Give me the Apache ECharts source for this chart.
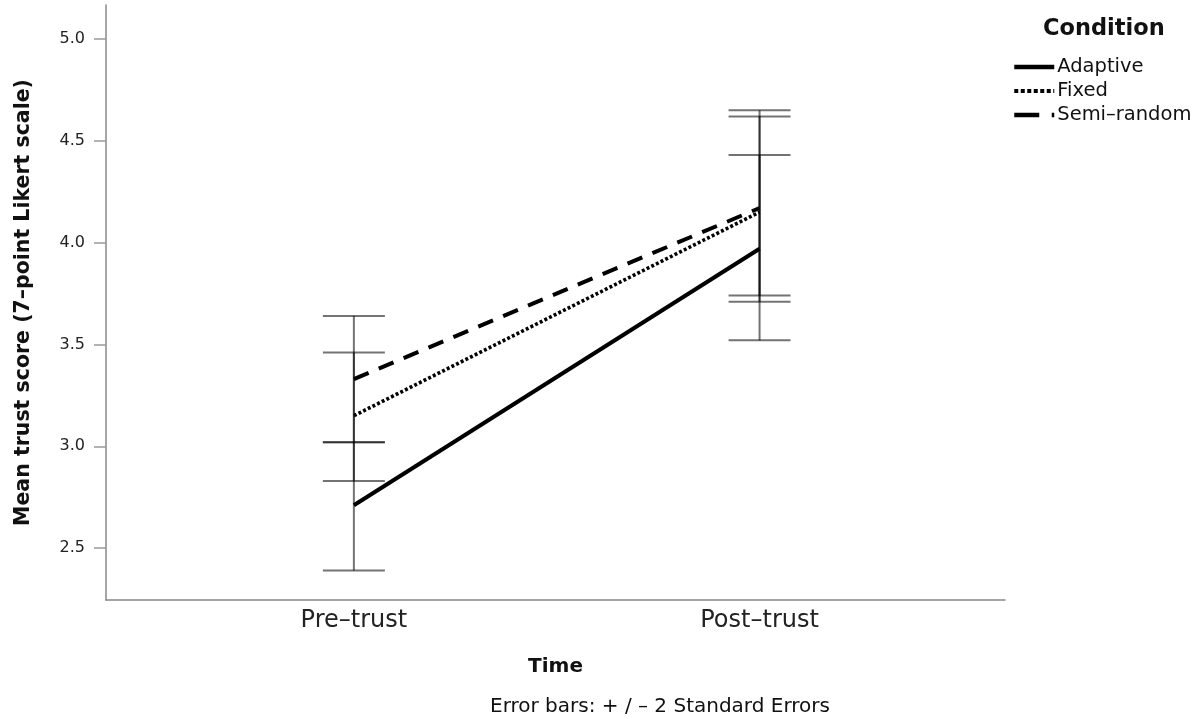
<!DOCTYPE html>
<html>
<head>
<meta charset="utf-8">
<script src="https://cdn.jsdelivr.net/npm/echarts@6/dist/echarts.min.js"></script>
<style>
  html, body { margin: 0; padding: 0; background: #fff; }
  #chart { width: 1200px; height: 719px; }
</style>
</head>
<body>
<div id="chart"></div>
<script>
// Time points (x positions 0 and 1 on the value axis)
const timePoints = ['Pre\u2013trust', 'Post\u2013trust'];
const conditions = ['Adaptive', 'Fixed', 'Semi\u2013random'];

// Mean trust score per condition at each time point
const adaptiveMean = [2.71, 3.97];
const fixedMean = [3.15, 4.15];
const semiRandomMean = [3.33, 4.17];

// Error bar bounds (+/- 2 SE) per condition at each time point
const adaptiveLow = [2.39, 3.52];
const adaptiveHigh = [3.02, 4.43];
const fixedLow = [2.83, 3.74];
const fixedHigh = [3.46, 4.62];
const semiRandomLow = [3.02, 3.71];
const semiRandomHigh = [3.64, 4.65];

const yTicks = [2.5, 3.0, 3.5, 4.0, 4.5, 5.0];

const means = [adaptiveMean, fixedMean, semiRandomMean];
const lows = [adaptiveLow, fixedLow, semiRandomLow];
const highs = [adaptiveHigh, fixedHigh, semiRandomHigh];
const dashes = ['solid', [3, 2.2], [16, 11]];
const widths = [4, 3.6, 4];

const FONT = 'DejaVu Sans';

const lineSeries = conditions.map((name, i) => ({
  name: name,
  type: 'line',
  symbol: 'none',
  z: 3,
  lineStyle: { color: '#000', width: widths[i], type: dashes[i], cap: 'butt' },
  itemStyle: { color: '#000' },
  data: timePoints.map((t, k) => [k, means[i][k]])
}));

const errorData = [];
conditions.forEach((name, i) => {
  timePoints.forEach((t, k) => errorData.push([k, lows[i][k], highs[i][k]]));
});

const errorSeries = {
  name: 'error',
  type: 'custom',
  z: 2,
  silent: true,
  data: errorData,
  renderItem: function (params, api) {
    const x = api.value(0);
    const pLo = api.coord([x, api.value(1)]);
    const pHi = api.coord([x, api.value(2)]);
    const hw = 31;
    const st = { stroke: 'rgba(0,0,0,0.55)', lineWidth: 2 };
    return {
      type: 'group',
      children: [
        { type: 'line', shape: { x1: pLo[0], y1: pLo[1], x2: pHi[0], y2: pHi[1] }, style: st },
        { type: 'line', shape: { x1: pLo[0] - hw, y1: pLo[1], x2: pLo[0] + hw, y2: pLo[1] }, style: st },
        { type: 'line', shape: { x1: pHi[0] - hw, y1: pHi[1], x2: pHi[0] + hw, y2: pHi[1] }, style: st }
      ]
    };
  }
};

const chart = echarts.init(document.getElementById('chart'), null, { renderer: 'canvas' });
chart.setOption({
  animation: false,
  backgroundColor: '#fff',
  textStyle: { fontFamily: FONT },
  grid: { left: 106, right: 195, top: 5, bottom: 119, containLabel: false, outerBoundsMode: 'none' },
  xAxis: {
    type: 'value',
    min: -0.611,
    max: 1.605,
    name: 'Time',
    nameLocation: 'middle',
    nameGap: 57,
    nameTextStyle: { fontFamily: FONT, fontSize: 20, fontWeight: 'bold', color: '#111' },
    axisLine: { show: true, onZero: false, lineStyle: { color: '#888', width: 1.5 } },
    axisTick: { show: false },
    splitLine: { show: false },
    axisLabel: {
      customValues: [0, 1],
      formatter: v => timePoints[Math.round(v)],
      fontFamily: FONT, fontSize: 24, color: '#222', margin: 9
    }
  },
  yAxis: {
    type: 'value',
    min: 2.245,
    max: 5.167,
    name: 'Mean trust score (7\u2013point Likert scale)',
    nameLocation: 'middle',
    nameGap: 72,
    nameRotate: 90,
    nameTextStyle: { fontFamily: FONT, fontSize: 20.5, fontWeight: 'bold', color: '#111' },
    axisLine: { show: true, onZero: false, lineStyle: { color: '#888', width: 1.5 } },
    axisTick: { show: true, customValues: yTicks, length: 12, lineStyle: { color: '#999', width: 1.5 } },
    splitLine: { show: false },
    axisLabel: {
      customValues: yTicks,
      formatter: v => v.toFixed(1),
      fontFamily: FONT, fontSize: 16, color: '#222', margin: 21
    }
  },
  legend: {
    data: [
      { name: conditions[0], lineStyle: { type: 'solid', width: 4.5 } },
      { name: conditions[1], lineStyle: { type: [4, 2.5], width: 4 } },
      { name: conditions[2], lineStyle: { type: [25, 12.5], width: 4.5 } }
    ],
    orient: 'vertical',
    left: 1007,
    top: 52,
    itemWidth: 40,
    itemHeight: 18,
    itemGap: 4,
    itemStyle: { opacity: 0 },
    textStyle: { fontFamily: FONT, fontSize: 19.5, color: '#111', padding: [0, 0, 0, -2] }
  },
  graphic: [
    {
      type: 'text', left: 1043, top: 18,
      style: { text: 'Condition', font: 'bold 22.5px "DejaVu Sans"', fill: '#111' }
    },
    {
      type: 'text', left: 490, top: 697,
      style: { text: 'Error bars: + / \u2013 2 Standard Errors', font: '20px "DejaVu Sans"', fill: '#111' }
    }
  ],
  series: [errorSeries].concat(lineSeries)
});
</script>
</body>
</html>
